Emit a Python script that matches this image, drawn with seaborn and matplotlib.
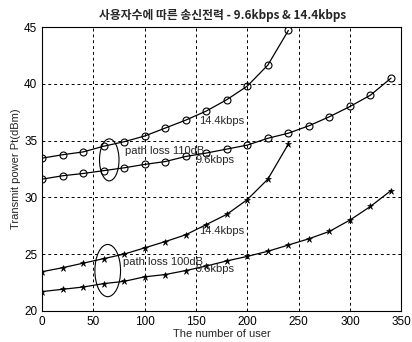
import matplotlib
matplotlib.use("Agg")
import matplotlib.pyplot as plt
from matplotlib.patches import Ellipse
import seaborn as sns
import pandas as pd

users_a = [0, 20, 40, 60, 80, 100, 120, 140, 160, 180, 200, 220, 240]
users_b = [0, 20, 40, 60, 80, 100, 120, 140, 160, 180, 200, 220, 240, 260, 280, 300, 320, 340]

pl110_144 = [33.45, 33.75, 34.0, 34.5, 34.9, 35.4, 36.1, 36.8, 37.6, 38.6, 39.8, 41.65, 44.7]
pl110_96 = [31.6, 31.9, 32.1, 32.35, 32.6, 32.9, 33.15, 33.6, 33.9, 34.25, 34.6, 35.2, 35.65,
            36.3, 37.1, 38.0, 39.0, 40.5]
pl100_144 = [23.45, 23.8, 24.2, 24.6, 25.0, 25.55, 26.1, 26.7, 27.6, 28.5, 29.8, 31.6, 34.7]
pl100_96 = [21.7, 21.9, 22.1, 22.4, 22.6, 23.0, 23.2, 23.55, 23.95, 24.4, 24.8, 25.25, 25.8,
            26.35, 27.0, 28.0, 29.2, 30.6]

title = "사용자수에 따른 송신전력 - 9.6kbps & 14.4kbps"
xlabel = "The number of user"
ylabel = "Transmit power Pt(dBm)"
x_ticks = [0, 50, 100, 150, 200, 250, 300, 350]
y_ticks = [20, 25, 30, 35, 40, 45]

sns.set_style("white")
plt.rcParams['font.family'] = ['Liberation Sans', 'Noto Sans CJK KR', 'DejaVu Sans']

fig = plt.figure(figsize=(4.12, 3.42), dpi=100)
ax = fig.add_axes([0.102, 0.091, 0.872, 0.830])

series = [
    (users_a, pl110_144, 'o'),
    (users_b, pl110_96, 'o'),
    (users_a, pl100_144, '*'),
    (users_b, pl100_96, '*'),
]
for xs, ys, m in series:
    df = pd.DataFrame({"x": xs, "y": ys})
    if m == 'o':
        sns.lineplot(data=df, x="x", y="y", ax=ax, color="black", linewidth=0.9,
                     marker='o', markersize=5, markerfacecolor='none',
                     markeredgecolor='black', markeredgewidth=0.8)
    else:
        sns.lineplot(data=df, x="x", y="y", ax=ax, color="black", linewidth=0.9,
                     marker='*', markersize=4.8, markerfacecolor='black',
                     markeredgecolor='black', markeredgewidth=0.4)

ax.set_xlim(0, 350)
ax.set_ylim(20, 45)
ax.set_xticks(x_ticks)
ax.set_yticks(y_ticks)
ax.grid(True, color='black', linestyle=(0, (3, 3)), linewidth=0.7)
ax.tick_params(direction='in', length=3, labelsize=8.5, colors='black')
for s in ax.spines.values():
    s.set_color('black')
    s.set_linewidth(0.8)

ax.set_xlabel(xlabel, fontsize=8, labelpad=1)
ax.set_ylabel(ylabel, fontsize=8, labelpad=2)
fig.text(0.54, 0.955, title, ha='center', va='center', fontsize=8.5, fontweight='bold',
         family=['Noto Sans CJK KR', 'DejaVu Sans'])

fs = 8
ax.text(153, 36.75, "14.4kbps", fontsize=fs, va='center')
ax.text(81, 34.1, "path loss 110dB", fontsize=fs, va='center')
ax.text(150, 33.25, "9.6kbps", fontsize=fs, va='center')
ax.text(153, 27.0, "14.4kbps", fontsize=fs, va='center')
ax.text(79, 24.3, "path loss 100dB", fontsize=fs, va='center')
ax.text(150, 23.7, "9.6kbps", fontsize=fs, va='center')

ax.add_patch(Ellipse((65.5, 33.3), 19, 3.7, fill=False, edgecolor='black', linewidth=0.8))
ax.add_patch(Ellipse((64, 23.55), 25, 4.6, fill=False, edgecolor='black', linewidth=0.8))

fig.savefig("out.png", dpi=100)
